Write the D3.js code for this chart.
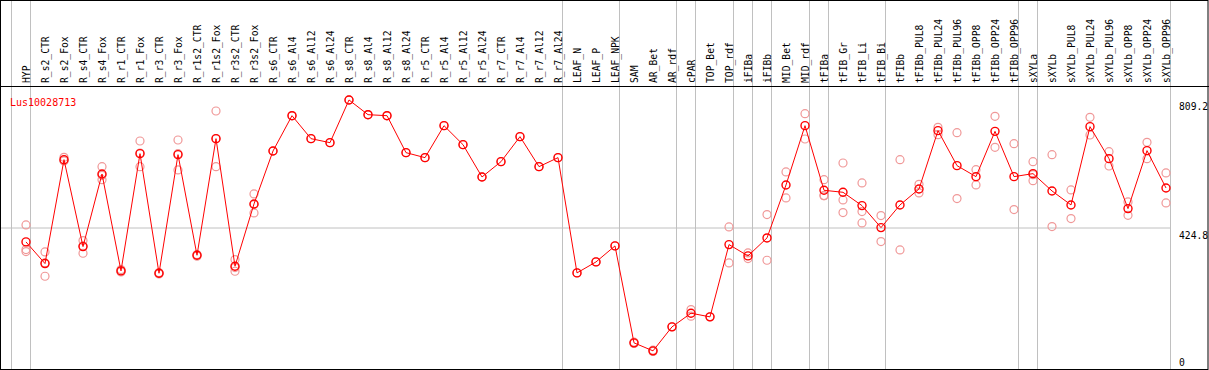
<!DOCTYPE html>
<html>
<head>
<meta charset="utf-8">
<script src="https://cdn.jsdelivr.net/npm/d3@7"></script>
<style>
  body { margin: 0; background: #fff; }
  text { font-family: "DejaVu Sans Mono", monospace; font-size: 9.7px; }
</style>
</head>
<body>
<div id="chart"></div>
<script>
// Data
var geneName = "Lus10028713";

var categories = [
  "HYP", "R_s2_CTR", "R_s2_Fox", "R_s4_CTR", "R_s4_Fox", "R_r1_CTR", "R_r1_Fox",
  "R_r3_CTR", "R_r3_Fox", "R_r1s2_CTR", "R_r1s2_Fox", "R_r3s2_CTR", "R_r3s2_Fox",
  "R_s6_CTR", "R_s6_Al4", "R_s6_Al12", "R_s6_Al24", "R_s8_CTR", "R_s8_Al4",
  "R_s8_Al12", "R_s8_Al24", "R_r5_CTR", "R_r5_Al4", "R_r5_Al12", "R_r5_Al24",
  "R_r7_CTR", "R_r7_Al4", "R_r7_Al12", "R_r7_Al24", "LEAF_N", "LEAF_P", "LEAF_NPK",
  "SAM", "AR_Bet", "AR_rdf", "cPAR", "TOP_Bet", "TOP_rdf", "iFIBa", "iFIBb",
  "MID_Bet", "MID_rdf", "tFIBa", "tFIB_Gr", "tFIB_Li", "tFIB_Bi", "tFIBb",
  "tFIBb_PUL8", "tFIBb_PUL24", "tFIBb_PUL96", "tFIBb_OPP8", "tFIBb_OPP24", "tFIBb_OPP96",
  "sXYLa", "sXYLb", "sXYLb_PUL8", "sXYLb_PUL24", "sXYLb_PUL96", "sXYLb_OPP8",
  "sXYLb_OPP24", "sXYLb_OPP96"
];

var means = [
  383, 318, 630, 369, 587, 296, 648, 289, 645, 343, 693, 310, 497,
  656, 762, 693, 681, 809.2, 765, 762, 651, 636, 732, 675, 578,
  624, 699, 609, 636, 290, 323, 371,
  80, 56, 128, 169, 158, 375, 341, 395, 554, 732, 538, 532, 492, 426,
  494, 542, 717, 612, 579, 715, 579,
  588, 536, 494, 729, 633, 483, 657, 545
];

var replicates = [
  [434, 360, 354], [353, 280, 320], [637, 627, 627], [387, 349, 371], [609, 570, 583],
  [296, 300, 293], [686, 609, 650], [291, 287, 289], [689, 599, 648], [345, 340],
  [776, 609, 693], [330, 295, 306], [527, 470, 495],
  [656], [762], [693], [681], [809.2], [765], [762], [651], [636], [732], [675], [578],
  [624], [699], [609], [636], [290], [323], [371],
  [82, 78], [58, 54], [128], [180, 160], [158], [428, 320], [350, 333], [465, 328],
  [593, 515], [768, 692], [570, 522, 522], [620, 509, 471], [560, 474, 440], [462, 384],
  [630, 359], [556, 530], [727, 705], [711, 513], [600, 554], [760, 667], [678, 480],
  [624, 585, 567], [645, 429], [539, 453], [757, 704], [654, 611], [503, 463], [682, 633], [590, 500]
];

// index where each sample group starts (last one = end)
var groupStarts = [0, 1, 29, 32, 35, 36, 38, 39, 40, 42, 43, 46, 53, 54, 61];

var yLabels = [809.2, 424.8, 0];
var yGrid = [424.8];
var yMax = 849.6;

// Set up the chart
var svgWidth = 1209;
var svgHeight = 370;
var plotTop = 86.5;
var plotBottom = 369.5;
var plotRight = 1170.5;

var svg = d3.select("#chart")
  .append("svg")
  .attr("width", svgWidth)
  .attr("height", svgHeight);

var xScale = d3.scalePoint()
  .domain(categories)
  .range([26, 1166]);

var yScale = d3.scaleLinear()
  .domain([0, yMax])
  .range([plotBottom, plotTop]);

var step = xScale.step();

// vertical group separators
svg.append("g")
  .selectAll("line")
  .data(groupStarts)
  .enter()
  .append("line")
  .attr("x1", k => xScale(categories[0]) + k * step - 14.5)
  .attr("x2", k => xScale(categories[0]) + k * step - 14.5)
  .attr("y1", 0)
  .attr("y2", svgHeight)
  .attr("stroke", "#c0c0c0")
  .attr("stroke-width", 1);

// horizontal grid
svg.append("g")
  .selectAll("line")
  .data(yGrid)
  .enter()
  .append("line")
  .attr("x1", 0)
  .attr("x2", plotRight)
  .attr("y1", d => yScale(d))
  .attr("y2", d => yScale(d))
  .attr("stroke", "#c0c0c0");

// frame
svg.append("rect")
  .attr("x", 0.5)
  .attr("y", 0.5)
  .attr("width", svgWidth - 1.5)
  .attr("height", plotBottom - 0.5)
  .attr("fill", "none")
  .attr("stroke", "#000");

svg.append("line")
  .attr("x1", 0)
  .attr("x2", svgWidth)
  .attr("y1", plotTop)
  .attr("y2", plotTop)
  .attr("stroke", "#000");

// rotated category labels
svg.append("g")
  .selectAll("text")
  .data(categories)
  .enter()
  .append("text")
  .attr("transform", d => `translate(${xScale(d) + 3.5}, 83) rotate(-90)`)
  .attr("fill", "#000")
  .text(d => d);

// right value labels
svg.append("g")
  .selectAll("text")
  .data(yLabels)
  .enter()
  .append("text")
  .attr("x", 1179)
  .attr("y", d => Math.min(yScale(d) + 10.5, 366))
  .attr("fill", "#000")
  .text(d => d);

// gene name
svg.append("text")
  .attr("x", 10)
  .attr("y", 106)
  .attr("fill", "#ff0000")
  .style("font-size", "10px")
  .text(geneName);

// replicate points
var repPoints = [];
replicates.forEach(function(vals, i) {
  vals.forEach(function(v) {
    repPoints.push({ cat: categories[i], value: v });
  });
});

svg.append("g")
  .selectAll("circle")
  .data(repPoints)
  .enter()
  .append("circle")
  .attr("cx", d => xScale(d.cat))
  .attr("cy", d => yScale(d.value))
  .attr("r", 4)
  .attr("fill", "none")
  .attr("stroke", "#f09898")
  .attr("stroke-width", 1.2);

// mean line
var line = d3.line()
  .x((d, i) => xScale(categories[i]))
  .y(d => yScale(d));

svg.append("path")
  .datum(means)
  .attr("d", line)
  .attr("fill", "none")
  .attr("stroke", "#ff0000")
  .attr("stroke-width", 1);

svg.append("g")
  .selectAll("circle")
  .data(means)
  .enter()
  .append("circle")
  .attr("cx", (d, i) => xScale(categories[i]))
  .attr("cy", d => yScale(d))
  .attr("r", 4)
  .attr("fill", "none")
  .attr("stroke", "#ff0000")
  .attr("stroke-width", 1.4);
</script>
</body>
</html>
